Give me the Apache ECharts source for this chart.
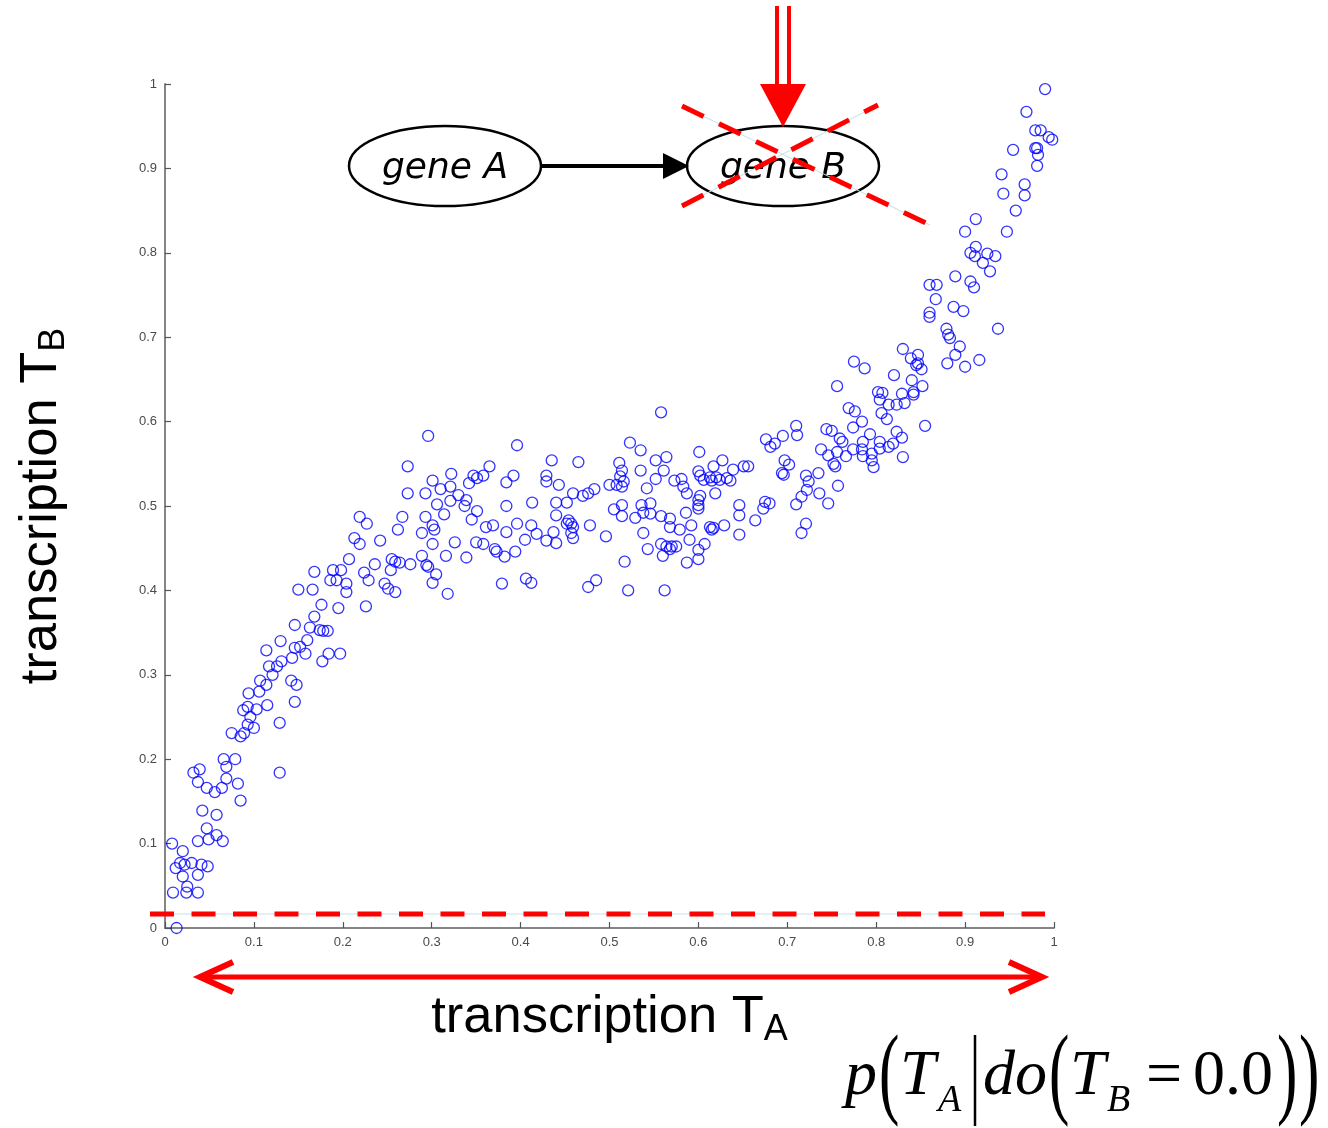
<!DOCTYPE html>
<html>
<head>
<meta charset="utf-8">
<script src="https://cdn.jsdelivr.net/npm/echarts@6/dist/echarts.min.js"></script>
<style>html,body{margin:0;padding:0;background:#fff;}#c{width:1328px;height:1128px;}</style>
</head>
<body>
<div id="c"></div>
<script>
// ---- data: [transcription T_A, transcription T_B] ----
const pointsLow = [[0.013,0.0],[0.009,0.042],[0.024,0.042],[0.037,0.042],[0.025,0.049],[0.020,0.061],[0.037,0.063],[0.012,0.071],[0.017,0.077],[0.022,0.075],[0.030,0.077],[0.041,0.075],[0.048,0.073],[0.020,0.091],[0.008,0.100],[0.037,0.103],[0.049,0.105],[0.058,0.110],[0.065,0.103],[0.047,0.118],[0.058,0.134],[0.042,0.139],[0.085,0.151],[0.082,0.171],[0.056,0.161],[0.047,0.166],[0.037,0.173],[0.032,0.184],[0.039,0.188],[0.064,0.166],[0.069,0.177],[0.069,0.191],[0.066,0.200],[0.079,0.200],[0.129,0.184],[0.075,0.231],[0.085,0.227],[0.089,0.231],[0.100,0.237],[0.093,0.241],[0.096,0.250],[0.088,0.258],[0.093,0.262],[0.103,0.259],[0.115,0.264],[0.129,0.243],[0.094,0.278],[0.106,0.280],[0.107,0.293],[0.114,0.288],[0.121,0.300],[0.117,0.310],[0.126,0.310],[0.114,0.329],[0.131,0.316],[0.130,0.340],[0.142,0.293],[0.148,0.288],[0.146,0.268],[0.143,0.320],[0.146,0.332],[0.152,0.333],[0.158,0.325],[0.160,0.341],[0.146,0.359],[0.168,0.369],[0.163,0.356],[0.176,0.383],[0.177,0.316],[0.184,0.325],[0.174,0.353],[0.178,0.352],[0.183,0.352],[0.197,0.325],[0.195,0.379],[0.150,0.401],[0.166,0.401],[0.168,0.422]];
const pointsEarly = [[0.296,0.583],[0.273,0.547],[0.322,0.538],[0.301,0.530],[0.310,0.520],[0.321,0.523],[0.347,0.536],[0.351,0.533],[0.342,0.527],[0.273,0.515],[0.293,0.515],[0.330,0.513],[0.339,0.507],[0.306,0.502],[0.321,0.506],[0.337,0.500],[0.351,0.494],[0.314,0.490],[0.293,0.487],[0.267,0.487],[0.219,0.487],[0.227,0.479],[0.262,0.472],[0.301,0.477],[0.303,0.472],[0.289,0.468],[0.345,0.484],[0.213,0.462],[0.219,0.455],[0.242,0.459],[0.301,0.455],[0.326,0.457],[0.350,0.457],[0.207,0.437],[0.236,0.431],[0.255,0.437],[0.259,0.434],[0.264,0.433],[0.276,0.431],[0.289,0.441],[0.294,0.430],[0.296,0.428],[0.305,0.419],[0.316,0.441],[0.339,0.439],[0.189,0.424],[0.198,0.424],[0.186,0.412],[0.193,0.412],[0.204,0.408],[0.204,0.398],[0.224,0.421],[0.229,0.412],[0.254,0.424],[0.247,0.408],[0.251,0.402],[0.259,0.398],[0.301,0.409],[0.318,0.396],[0.226,0.381]];
const pointsPlateau = [[0.558,0.611],[0.396,0.572],[0.523,0.575],[0.535,0.566],[0.601,0.564],[0.365,0.547],[0.435,0.554],[0.465,0.552],[0.511,0.551],[0.552,0.554],[0.564,0.558],[0.627,0.554],[0.617,0.547],[0.651,0.547],[0.656,0.547],[0.358,0.536],[0.392,0.536],[0.384,0.528],[0.429,0.536],[0.429,0.529],[0.443,0.525],[0.514,0.542],[0.512,0.535],[0.516,0.529],[0.508,0.525],[0.514,0.523],[0.535,0.542],[0.561,0.542],[0.552,0.532],[0.573,0.530],[0.581,0.532],[0.600,0.541],[0.602,0.536],[0.606,0.531],[0.613,0.534],[0.615,0.530],[0.620,0.534],[0.632,0.533],[0.636,0.530],[0.639,0.543],[0.624,0.531],[0.542,0.521],[0.500,0.525],[0.583,0.523],[0.587,0.515],[0.602,0.512],[0.600,0.507],[0.600,0.501],[0.600,0.497],[0.619,0.515],[0.459,0.515],[0.470,0.512],[0.476,0.515],[0.483,0.520],[0.440,0.504],[0.452,0.504],[0.413,0.504],[0.384,0.500],[0.440,0.489],[0.454,0.483],[0.457,0.479],[0.459,0.475],[0.452,0.479],[0.478,0.477],[0.505,0.496],[0.514,0.501],[0.514,0.488],[0.536,0.501],[0.546,0.503],[0.546,0.491],[0.538,0.492],[0.529,0.486],[0.558,0.488],[0.568,0.485],[0.568,0.475],[0.586,0.492],[0.592,0.477],[0.579,0.472],[0.613,0.475],[0.617,0.474],[0.615,0.472],[0.629,0.477],[0.646,0.501],[0.646,0.489],[0.646,0.466],[0.361,0.475],[0.369,0.477],[0.384,0.469],[0.396,0.479],[0.412,0.477],[0.418,0.467],[0.437,0.469],[0.429,0.459],[0.440,0.456],[0.457,0.468],[0.459,0.462],[0.405,0.460],[0.358,0.455],[0.371,0.449],[0.373,0.446],[0.382,0.440],[0.394,0.446],[0.496,0.464],[0.538,0.468],[0.543,0.449],[0.558,0.455],[0.564,0.452],[0.570,0.452],[0.575,0.452],[0.568,0.449],[0.560,0.441],[0.590,0.460],[0.607,0.455],[0.600,0.448],[0.600,0.437],[0.587,0.433],[0.517,0.434],[0.379,0.408],[0.406,0.414],[0.412,0.409],[0.476,0.404],[0.485,0.412],[0.521,0.400],[0.562,0.400]];
const pointsRise = [[0.881,0.703],[0.883,0.699],[0.889,0.679],[0.880,0.669],[0.830,0.686],[0.839,0.675],[0.847,0.679],[0.847,0.669],[0.851,0.662],[0.845,0.667],[0.775,0.671],[0.787,0.663],[0.820,0.655],[0.840,0.649],[0.852,0.642],[0.842,0.635],[0.842,0.632],[0.756,0.642],[0.802,0.635],[0.807,0.634],[0.804,0.626],[0.814,0.620],[0.823,0.620],[0.829,0.633],[0.832,0.622],[0.806,0.610],[0.812,0.603],[0.769,0.616],[0.776,0.612],[0.784,0.600],[0.774,0.593],[0.855,0.595],[0.710,0.595],[0.711,0.584],[0.695,0.583],[0.686,0.574],[0.676,0.579],[0.681,0.570],[0.744,0.591],[0.750,0.589],[0.759,0.580],[0.762,0.576],[0.793,0.585],[0.785,0.576],[0.804,0.576],[0.823,0.588],[0.829,0.581],[0.819,0.574],[0.814,0.570],[0.738,0.567],[0.746,0.560],[0.756,0.564],[0.766,0.559],[0.774,0.567],[0.784,0.567],[0.785,0.559],[0.795,0.562],[0.804,0.568],[0.795,0.554],[0.797,0.546],[0.752,0.550],[0.754,0.547],[0.830,0.558],[0.697,0.554],[0.702,0.549],[0.694,0.539],[0.696,0.537],[0.721,0.536],[0.724,0.529],[0.735,0.539],[0.722,0.519],[0.716,0.511],[0.710,0.502],[0.736,0.515],[0.746,0.503],[0.757,0.524],[0.675,0.505],[0.680,0.503],[0.673,0.497],[0.664,0.483],[0.721,0.479],[0.716,0.468]];
const pointsTop = [[0.990,0.994],[0.969,0.967],[0.979,0.945],[0.985,0.945],[0.994,0.937],[0.998,0.934],[0.979,0.924],[0.981,0.924],[0.982,0.916],[0.981,0.903],[0.954,0.922],[0.941,0.893],[0.943,0.870],[0.967,0.881],[0.967,0.868],[0.957,0.850],[0.947,0.825],[0.912,0.840],[0.900,0.825],[0.912,0.807],[0.906,0.800],[0.911,0.796],[0.925,0.799],[0.934,0.796],[0.920,0.788],[0.928,0.778],[0.889,0.772],[0.906,0.766],[0.910,0.759],[0.860,0.762],[0.868,0.762],[0.867,0.745],[0.887,0.736],[0.898,0.731],[0.860,0.729],[0.860,0.724],[0.937,0.710],[0.879,0.710],[0.894,0.689],[0.900,0.665],[0.916,0.673]];
const tickLabels = ['0','0.1','0.2','0.3','0.4','0.5','0.6','0.7','0.8','0.9','1'];
const xTitle = 'transcription T', xSub = 'A';
const yTitle = 'transcription T', ySub = 'B';
const geneNames = ['gene A', 'gene B'];

const allPoints = [].concat(pointsLow, pointsEarly, pointsPlateau, pointsRise, pointsTop);

const chart = echarts.init(document.getElementById('c'), null, {renderer: 'canvas'});

const axisCommon = {
  type: 'value', min: 0, max: 1, interval: 0.1,
  axisLine: {show: true, lineStyle: {color: '#858585', width: 2}},
  axisTick: {show: true, inside: true, length: 6, lineStyle: {color: '#555', width: 1.2}},
  axisLabel: {
    fontSize: 13, color: '#4a4a4a', fontFamily: 'Liberation Sans', margin: 8,
    formatter: v => tickLabels[Math.round(v * 10)]
  },
  splitLine: {show: false},
  nameLocation: 'middle'
};
const titleRich = {
  a: {fontSize: 52.5, fontFamily: 'Liberation Sans', color: '#000', lineHeight: 60, padding: [0,0,4,0], verticalAlign: 'bottom'},
  b: {fontSize: 36, fontFamily: 'Liberation Sans', color: '#000', lineHeight: 40, verticalAlign: 'bottom'}
};

const serifIt = 'italic 64px "Liberation Serif"';
const serif = '64px "Liberation Serif"';
const subIt = 'italic 38px "Liberation Serif"';
const paren = '102px "Liberation Serif"';
function txt(x, y, text, font) {
  return {type: 'text', x: x, y: y, z: 100,
    style: {text: text, font: font, fill: '#000', textAlign: 'left', textVerticalAlign: 'middle'}};
}
function bigParen(x, ch) {
  return {type: 'text', x: x, y: 1078, scaleX: 0.6, z: 100,
    style: {text: ch, font: paren, fill: '#000', textAlign: 'left', textVerticalAlign: 'middle'}};
}

const graphics = [
  // dashed intervention line T_B = 0
  {type: 'line', z: 50, shape: {x1: 150, y1: 914, x2: 1045, y2: 914}, style: {stroke: '#bfe3e6', lineWidth: 1}},
  {type: 'line', z: 51, shape: {x1: 150, y1: 914, x2: 1045, y2: 914}, style: {stroke: '#ff0000', lineWidth: 5, lineDash: [24, 17.5]}},
  // double headed red arrow under x axis
  {type: 'line', z: 50, shape: {x1: 202, y1: 977, x2: 1040, y2: 977}, style: {stroke: '#ff0000', lineWidth: 5}},
  {type: 'polyline', z: 50, shape: {points: [[233, 962], [200, 977], [233, 992]]}, style: {stroke: '#ff0000', lineWidth: 6, fill: null, lineJoin: 'miter'}},
  {type: 'polyline', z: 50, shape: {points: [[1009, 962], [1042, 977], [1009, 992]]}, style: {stroke: '#ff0000', lineWidth: 6, fill: null, lineJoin: 'miter'}},
  // gene network diagram
  {type: 'ellipse', z: 60, shape: {cx: 445, cy: 166, rx: 96, ry: 40}, style: {fill: 'rgba(255,255,255,0)', stroke: '#000', lineWidth: 2.5}},
  {type: 'ellipse', z: 60, shape: {cx: 783, cy: 166, rx: 96, ry: 40}, style: {fill: 'rgba(255,255,255,0)', stroke: '#000', lineWidth: 2.5}},
  {type: 'text', z: 61, x: 445, y: 169, style: {text: geneNames[0], font: 'italic 36px "DejaVu Sans"', fill: '#000', textAlign: 'center', textVerticalAlign: 'middle'}},
  {type: 'text', z: 61, x: 783, y: 169, style: {text: geneNames[1], font: 'italic 36px "DejaVu Sans"', fill: '#000', textAlign: 'center', textVerticalAlign: 'middle'}},
  {type: 'line', z: 60, shape: {x1: 542, y1: 166, x2: 668, y2: 166}, style: {stroke: '#000', lineWidth: 4}},
  {type: 'polygon', z: 60, shape: {points: [[663, 153], [689, 166], [663, 179]]}, style: {fill: '#000'}},
  // intervention arrow
  {type: 'line', z: 60, shape: {x1: 777, y1: 6, x2: 777, y2: 90}, style: {stroke: '#ff0000', lineWidth: 4}},
  {type: 'line', z: 60, shape: {x1: 789, y1: 6, x2: 789, y2: 90}, style: {stroke: '#ff0000', lineWidth: 4}},
  {type: 'polygon', z: 60, shape: {points: [[760, 84], [806, 84], [783, 127]]}, style: {fill: '#ff0000'}},
  // cross-out on gene B
  {type: 'line', z: 62, shape: {x1: 682, y1: 106, x2: 930, y2: 225}, style: {stroke: '#bfe3e6', lineWidth: 1}},
  {type: 'line', z: 63, shape: {x1: 682, y1: 106, x2: 930, y2: 225}, style: {stroke: '#ff0000', lineWidth: 5, lineDash: [24, 17]}},
  {type: 'line', z: 62, shape: {x1: 682, y1: 206, x2: 878, y2: 105}, style: {stroke: '#bfe3e6', lineWidth: 1}},
  {type: 'line', z: 63, shape: {x1: 682, y1: 206, x2: 878, y2: 105}, style: {stroke: '#ff0000', lineWidth: 5, lineDash: [24, 17]}},
  // formula p(T_A | do(T_B = 0.0))
  txt(845, 1077, 'p', serifIt),
  bigParen(879, '('),
  txt(900, 1077, 'T', serifIt),
  txt(938, 1101, 'A', subIt),
  {type: 'line', z: 100, shape: {x1: 975, y1: 1035, x2: 975, y2: 1126}, style: {stroke: '#000', lineWidth: 2.5}},
  txt(983, 1077, 'do', serifIt),
  bigParen(1049, '('),
  txt(1070, 1077, 'T', serifIt),
  txt(1107, 1101, 'B', subIt),
  txt(1146, 1077, '=', serif),
  txt(1193, 1077, '0.0', serif),
  bigParen(1277, ')'),
  bigParen(1299, ')')
];

chart.setOption({
  animation: false,
  backgroundColor: '#fff',
  grid: {left: 165, right: 274, top: 84, bottom: 200, containLabel: false},
  xAxis: Object.assign({}, axisCommon, {
    name: '{a|' + xTitle + '}{b|' + xSub + '}', nameGap: 60,
    nameTextStyle: {rich: titleRich}
  }),
  yAxis: Object.assign({}, axisCommon, {
    name: '{a|' + yTitle + '}{b|' + ySub + '}', nameGap: 93,
    nameTextStyle: {rich: titleRich}
  }),
  series: [{
    type: 'scatter',
    data: allPoints,
    symbol: 'circle',
    symbolSize: 11,
    itemStyle: {color: 'rgba(0,0,0,0)', borderColor: '#0000ff', borderWidth: 1.3},
    emphasis: {disabled: true},
    silent: true,
    z: 10
  }],
  graphic: graphics
});
</script>
</body>
</html>
